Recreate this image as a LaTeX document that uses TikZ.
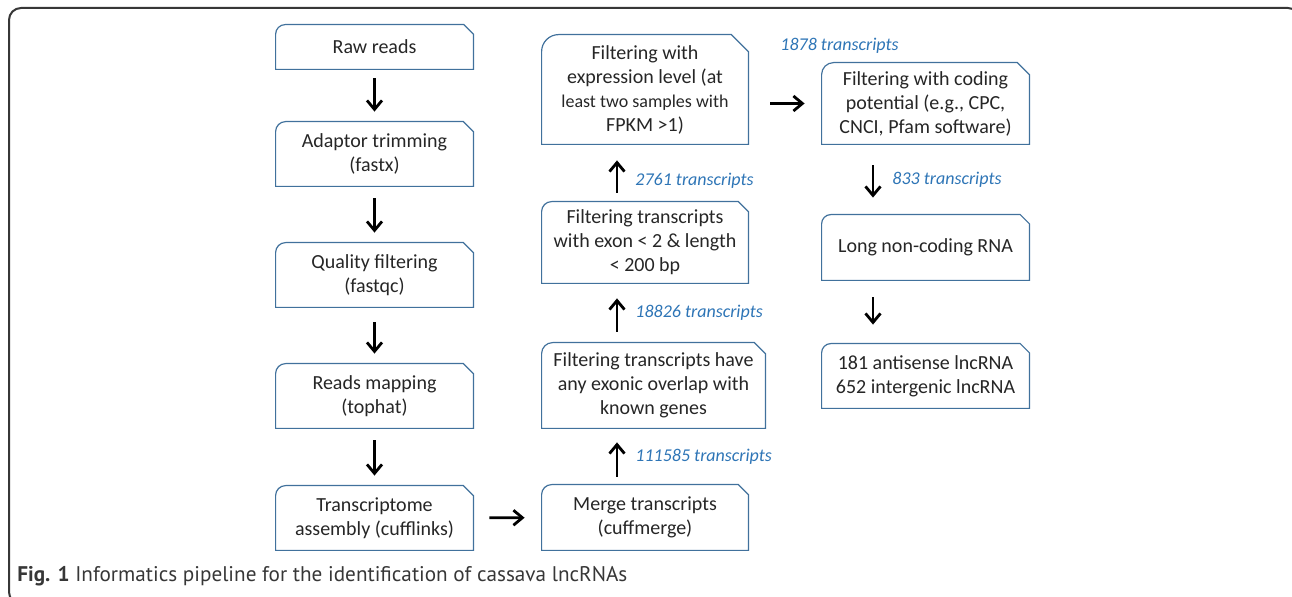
\documentclass[tikz,border=0pt]{standalone}
\usepackage{fontspec}
\setmainfont{Carlito}
\newfontfamily\capfont{PT Sans}
\usetikzlibrary{arrows.meta, positioning, calc}
\definecolor{boxblue}{RGB}{65,113,156}
\definecolor{countblue}{RGB}{46,117,182}
\definecolor{framegray}{RGB}{55,55,55}

\tikzset{
	stage/.style={inner sep=0pt, align=center, text=black!85, font=\fontsize{10}{12}\selectfont},
	colA/.style={stage, minimum width=98.5pt},
	colB/.style={stage, minimum width=103pt},
	colC/.style={stage, minimum width=103.5pt},
	flow/.style={-{Straight Barb[length=4.5pt,width=7.5pt]}, line width=1.4pt, shorten <=6pt, shorten >=5pt},
	count/.style={text=countblue, font=\fontsize{9}{11}\selectfont\itshape, anchor=west, inner sep=0pt},
	boxline/.style={draw=boxblue, line width=0.6pt}
}

\begin{document}
\begin{tikzpicture}[x=0.5pt, y=-0.5pt]
		\useasboundingbox (0,0) rectangle (1292,597);
		% frame
		\draw[framegray, line width=1pt, rounded corners=6pt] (40,604) -- (9,604) -- (9,8) -- (1300,8) -- (1300,40);
		
		% first column
		\node[colA, minimum height=22pt] (raw) at (374.5,47) {Raw reads};
		\node[colA, minimum height=32pt] (adapt) at (374.5,154) {Adaptor trimming\\(fastx)};
		\node[colA, minimum height=32pt] (qual) at (374.5,275) {Quality filtering\\(fastqc)};
		\node[colA, minimum height=32pt] (mapping) at (374.5,396) {Reads mapping\\(tophat)};
		\node[colA, minimum height=32pt] (assembly) at (374.5,518) {Transcriptome\\assembly (cufflinks)};
		
		% second column
		\node[colB, minimum height=32.5pt] (merge) at (645,517.5) {Merge transcripts\\(cuffmerge)};
		\node[stage, minimum width=111.5pt, minimum height=42.5pt] (overlap) at (653.5,385.5) {Filtering transcripts have\\any exonic overlap with\\known genes};
		\node[colB, minimum height=40.5pt] (exon) at (645,242.5) {Filtering transcripts\\with exon < 2 \& length\\< 200 bp};
		\node[colB, minimum height=54.5pt] (express) at (645,89.5) {Filtering with\\expression level (at\\{\fontsize{9}{11}\selectfont least two samples with}\\FPKM >1)};
		
		% third column
		\node[colC, minimum height=40.5pt] (coding) at (925.5,103.5) {Filtering with coding\\potential (e.g., CPC,\\CNCI, Pfam software)};
		\node[colC, minimum height=32.5pt] (lncrna) at (925.5,247.5) {Long non-coding RNA};
		\node[colC, minimum height=32pt] (classes) at (925.5,376) {181 antisense lncRNA\\652 intergenic lncRNA};
		
		% box outlines: rounded top left, snipped top right
		\foreach \n/\c in {raw/4.8, adapt/5, qual/5, mapping/5, assembly/5, merge/5, overlap/5.5, exon/5, express/8.5, coding/6, lncrna/4.6, classes/4.6}
		\draw[boxline] (\n.south west) -- ([yshift=-\c pt]\n.north west) arc[start angle=180, end angle=90, radius=\c pt]
			-- ([xshift=-\c pt]\n.north east) -- ([yshift=-\c pt]\n.north east) -- (\n.south east) -- cycle;
		
		% arrows
		\coordinate (upx) at (617,0);
		\coordinate (downx) at (873,0);
		\draw[flow, shorten <=4.5pt] (raw) -- (adapt);
		\draw[flow] (adapt) -- (qual);
		\draw[flow, shorten <=7.5pt] (qual) -- (mapping);
		\draw[flow] (mapping) -- (assembly);
		\draw[flow, shorten <=8pt, shorten >=8.5pt] (assembly) -- (merge);
		\draw[flow, shorten <=4pt, shorten >=7pt] (merge.north -| upx) -- (overlap.south -| upx) node[count, midway, right=8.5pt] {111585 transcripts};
		\draw[flow, shorten <=5.5pt, shorten >=7.5pt] (overlap.north -| upx) -- (exon.south -| upx) node[count, midway, right=8.5pt] {18826 transcripts};
		\draw[flow, shorten <=4.5pt, shorten >=8pt] (exon.north -| upx) -- (express.south -| upx) node[count, midway, right=8.5pt, yshift=-4pt] {2761 transcripts};
		\draw[flow, shorten <=11pt, shorten >=8.5pt] (express.east |- coding) -- (coding);
		\node[count] (n1878) at (780,46) {1878 transcripts};
		\draw[flow, shorten <=10.5pt, shorten >=8.5pt] (coding.south -| downx) -- (lncrna.north -| downx) node[count, midway, right=9pt] {833 transcripts};
		\draw[flow, shorten <=8.5pt, shorten >=9.5pt] (lncrna.south -| downx) -- (classes.north -| downx);
		
		% caption
		\node[anchor=west, inner sep=0pt, text=framegray, font=\capfont\fontsize{10.6}{12}\selectfont] (caption) at (17,576) {\textbf{Fig. 1} Informatics pipeline for the identification of cassava lncRNAs};
\end{tikzpicture}
\end{document}
